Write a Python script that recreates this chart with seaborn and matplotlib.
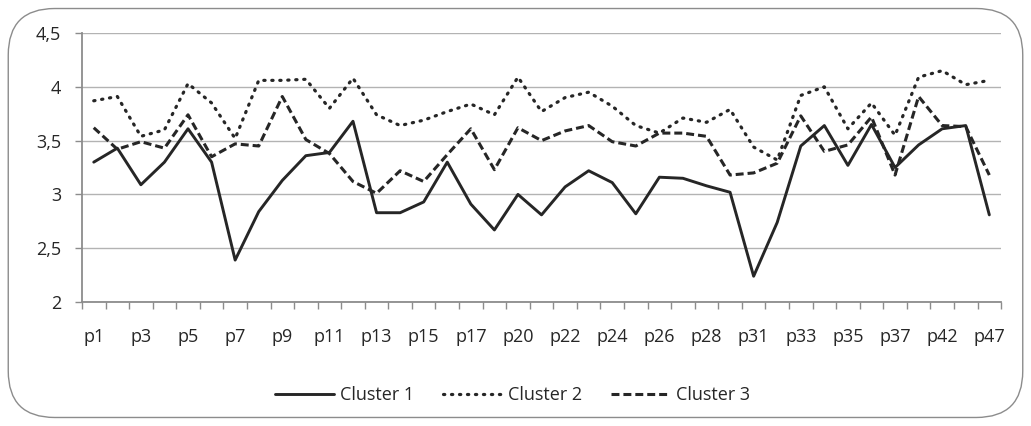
import numpy as np
import pandas as pd
import matplotlib
matplotlib.use('Agg')
import matplotlib.pyplot as plt
import seaborn as sns
from matplotlib.patches import FancyBboxPatch
from matplotlib.ticker import FuncFormatter

# categories (only every other one gets a label in the original)
categories = ['p1', 'p2', 'p3', 'p4', 'p5', 'p6', 'p7', 'p8', 'p9', 'p10',
              'p11', 'p12', 'p13', 'p14', 'p15', 'p16', 'p17', 'p18', 'p20', 'p21',
              'p22', 'p23', 'p24', 'p25', 'p26', 'p27', 'p28', 'p29', 'p31', 'p32',
              'p33', 'p34', 'p35', 'p36', 'p37', 'p40', 'p42', 'p45', 'p47']

cluster1 = [3.30, 3.43, 3.09, 3.30, 3.61, 3.30, 2.39, 2.84, 3.13, 3.36,
            3.39, 3.68, 2.83, 2.83, 2.93, 3.30, 2.91, 2.67, 3.00, 2.81,
            3.07, 3.22, 3.11, 2.82, 3.16, 3.15, 3.08, 3.02, 2.24, 2.74,
            3.45, 3.64, 3.27, 3.65, 3.25, 3.46, 3.61, 3.64, 2.81]

cluster2 = [3.87, 3.91, 3.54, 3.60, 4.03, 3.85, 3.52, 4.06, 4.06, 4.07,
            3.80, 4.08, 3.74, 3.64, 3.69, 3.77, 3.84, 3.74, 4.09, 3.77,
            3.90, 3.95, 3.82, 3.64, 3.57, 3.71, 3.67, 3.79, 3.44, 3.32,
            3.92, 4.00, 3.61, 3.85, 3.55, 4.09, 4.15, 4.02, 4.06]

cluster3 = [3.62, 3.42, 3.49, 3.43, 3.74, 3.35, 3.47, 3.45, 3.91, 3.51,
            3.38, 3.12, 3.01, 3.22, 3.12, 3.37, 3.61, 3.23, 3.62, 3.50,
            3.59, 3.64, 3.49, 3.45, 3.57, 3.57, 3.54, 3.18, 3.20, 3.29,
            3.73, 3.40, 3.46, 3.72, 3.18, 3.91, 3.64, 3.63, 3.18]

sns.set_style('white')
plt.rcParams['font.family'] = ['Open Sans', 'DejaVu Sans']

fig = plt.figure(figsize=(10.31, 4.26), dpi=100)
ax = fig.add_axes([0.0795, 0.291, 0.8915, 0.6315])

# rounded outer frame like the spreadsheet chart area
frame = FancyBboxPatch((0.008, 0.02), 0.984, 0.96, boxstyle='round,pad=0,rounding_size=0.045',
                       transform=fig.transFigure, facecolor='none', edgecolor='#8c8c8c',
                       linewidth=1.0, mutation_aspect=1031/426)
fig.patches.append(frame)

x = np.arange(len(categories))
line_col = '#262626'
sns.lineplot(x=x, y=cluster1, ax=ax, color=line_col, linewidth=2.1, label='Cluster 1')
sns.lineplot(x=x, y=cluster2, ax=ax, color=line_col, linewidth=2.3, label='Cluster 2',
             linestyle=(0, (0.4, 2.1)), dash_capstyle='round')
sns.lineplot(x=x, y=cluster3, ax=ax, color=line_col, linewidth=2.2, label='Cluster 3',
             linestyle=(0, (2.6, 1.3)))

ax.set_xlim(-0.5, len(categories) - 0.5)
ax.set_ylim(2, 4.5)
ax.set_yticks([2, 2.5, 3, 3.5, 4, 4.5])
ax.yaxis.set_major_formatter(FuncFormatter(lambda v, p: ('%g' % v).replace('.', ',')))
ax.yaxis.grid(True, color='#b3b3b3', linewidth=1.0)
ax.set_axisbelow(True)

ax.set_xticks(x[::2])
ax.set_xticklabels(categories[::2])
ax.set_xticks(np.arange(-0.5, len(categories)), minor=True)
ax.tick_params(axis='x', which='major', length=0, pad=19, labelsize=13, colors='#262626')
ax.tick_params(axis='x', which='minor', length=5, width=1, color='#8c8c8c', direction='out')
ax.tick_params(axis='y', which='major', length=5, width=1, color='#8c8c8c', direction='out',
               labelsize=13, labelcolor='#262626', pad=10)
ax.xaxis.set_ticks_position('bottom')
ax.yaxis.set_ticks_position('left')

for s in ['top', 'right']:
    ax.spines[s].set_visible(False)
for s in ['left', 'bottom']:
    ax.spines[s].set_color('#8c8c8c')
    ax.spines[s].set_linewidth(1.3)

ax.set_xlabel('')
ax.set_ylabel('')
ax.legend(loc='center', bbox_to_anchor=(0.497, 0.072), bbox_transform=fig.transFigure,
          ncol=3, frameon=False, fontsize=13, handlelength=3.3, handletextpad=0.3,
          columnspacing=1.6)

fig.savefig('out.png', dpi=100)
